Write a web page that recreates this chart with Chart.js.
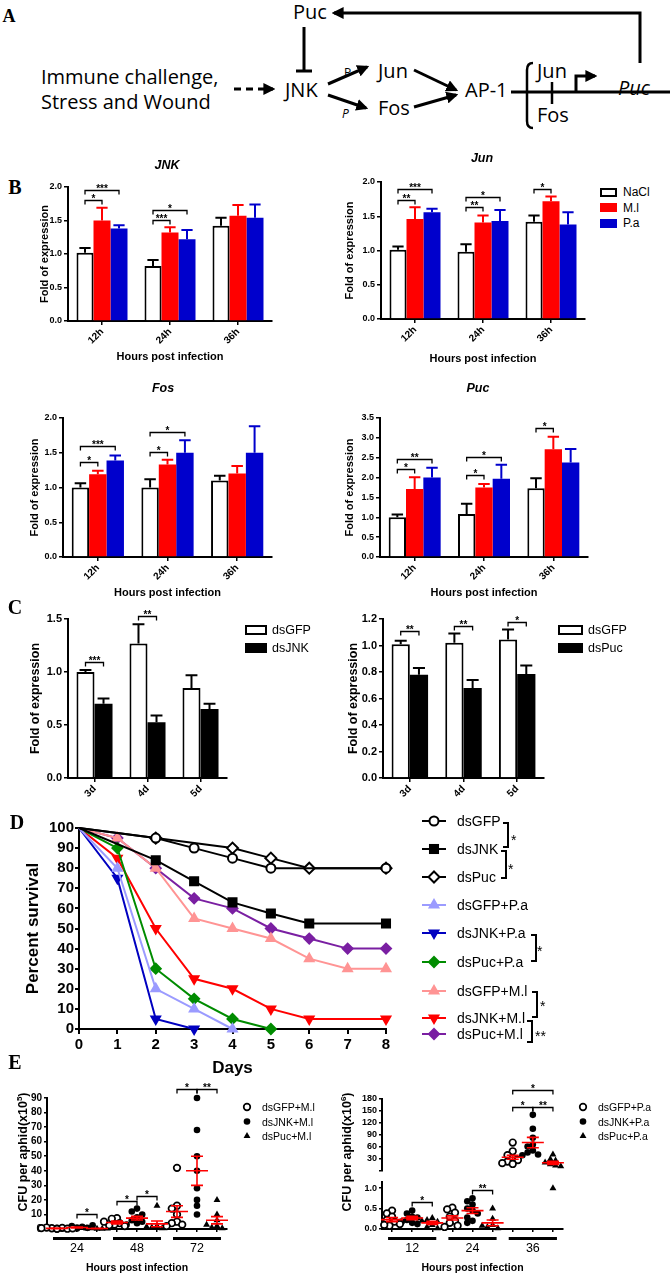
<!DOCTYPE html>
<html>
<head>
<meta charset="utf-8">
<title>JNK pathway and aphid immunity</title>
<script src="https://cdn.jsdelivr.net/npm/chart.js@4.4.1/dist/chart.umd.min.js"></script>
<style>
  html, body { margin: 0; padding: 0; background: #fff; }
  body { position: relative; width: 670px; height: 1274px; overflow: hidden;
         font-family: "Liberation Sans", Arial, sans-serif; color: #000; }
  canvas { position: absolute; }
  .lbl { position: absolute; white-space: nowrap; line-height: 1; }
  .c { transform: translate(-50%, -50%); }
  .m { transform: translateY(-50%); }
  .panel { font-family: "Liberation Serif", "Times New Roman", serif; font-weight: bold; font-size: 20px; }
  .gene { font-weight: bold; font-style: italic; font-size: 12.5px; }
  .rot { transform: translate(-50%, -50%) rotate(-90deg); font-weight: bold; font-size: 12.5px; }
  .rot sup { font-size: 8px; }
  .box { position: absolute; box-sizing: border-box; }
</style>
</head>
<body>

<!-- A: pathway sketch -->
<svg width="670" height="132" style="position:absolute;left:0;top:0">
  <defs>
    <marker id="ah" viewBox="0 0 10 10" refX="8" refY="5" markerWidth="4" markerHeight="4"
            orient="auto" markerUnits="strokeWidth">
      <path d="M0,0 L10,5 L0,10 z" fill="#000"/>
    </marker>
  </defs>
  <g font-family="'Open Sans','Noto Sans',sans-serif" font-size="20" fill="#000">
    <text x="41" y="84">Immune challenge,</text>
    <text x="41" y="109">Stress and Wound</text>
    <text x="293" y="19">Puc</text>
    <text x="285" y="97">JNK</text>
    <text x="378" y="78">Jun</text>
    <text x="378" y="115">Fos</text>
    <text x="465" y="97">AP-1</text>
    <text x="537" y="78">Jun</text>
    <text x="537" y="122">Fos</text>
    <text x="618" y="95" font-style="italic">Puc</text>
    <text x="344" y="77" font-size="12">P</text>
    <text x="342" y="118" font-size="12" font-style="italic">P</text>
  </g>
  <g stroke="#000" stroke-width="3" fill="none">
    <path d="M640,63 V13 H334" marker-end="url(#ah)"/>
    <path d="M304,27 V71 M296,71 H312"/>
    <path d="M234,89 H273" stroke-dasharray="7,5" marker-end="url(#ah)"/>
    <path d="M328,84 L367,67" marker-end="url(#ah)"/>
    <path d="M328,95 L366,108" marker-end="url(#ah)"/>
    <path d="M414,70 L456,90" marker-end="url(#ah)"/>
    <path d="M414,107 L456,95" marker-end="url(#ah)"/>
    <path d="M511,92 H527"/>
    <path d="M533,63 Q527,63 527,70 V121 Q527,128 533,128" stroke-width="2.5"/>
    <path d="M527,92 H670"/>
    <path d="M552,82 V104" stroke-width="2.5"/>
    <path d="M576,92 V76 H595" marker-end="url(#ah)"/>
  </g>
</svg>

<script>
// ---------- data ----------
// B: fold of expression after infection (mean, SEM)
const hpiLabels = ['12h', '24h', '36h'];
const bSeries = ['NaCl', 'M.l', 'P.a'];

const jnkNaCl = [1.02, 0.82, 1.42], jnkNaClErr = [0.07, 0.09, 0.12];
const jnkMl = [1.50, 1.32, 1.57],   jnkMlErr = [0.19, 0.08, 0.16];
const jnkPa = [1.38, 1.22, 1.54],   jnkPaErr = [0.05, 0.14, 0.20];

const junNaCl = [1.01, 0.98, 1.42], junNaClErr = [0.05, 0.11, 0.09];
const junMl = [1.46, 1.41, 1.72],   junMlErr = [0.17, 0.10, 0.07];
const junPa = [1.56, 1.43, 1.38],   junPaErr = [0.05, 0.16, 0.18];

const fosNaCl = [1.00, 1.00, 1.10], fosNaClErr = [0.06, 0.12, 0.07];
const fosMl = [1.19, 1.33, 1.20],   fosMlErr = [0.05, 0.07, 0.11];
const fosPa = [1.39, 1.50, 1.50],   fosPaErr = [0.07, 0.18, 0.38];

const pucNaCl = [1.00, 1.08, 1.73], pucNaClErr = [0.07, 0.26, 0.25];
const pucMl = [1.71, 1.75, 2.71],   pucMlErr = [0.30, 0.09, 0.32];
const pucPa = [2.00, 1.97, 2.38],   pucPaErr = [0.25, 0.35, 0.34];

// significance brackets: g = group, a/b = datasets joined, y = bracket height
const jnkSig = [{g:0,a:0,b:1,y:1.80,t:'*'}, {g:0,a:0,b:2,y:1.95,t:'***'}, {g:1,a:0,b:1,y:1.51,t:'***'}, {g:1,a:0,b:2,y:1.66,t:'*'}];
const junSig = [{g:0,a:0,b:1,y:1.74,t:'**'}, {g:0,a:0,b:2,y:1.90,t:'***'}, {g:1,a:0,b:1,y:1.63,t:'**'}, {g:1,a:0,b:2,y:1.78,t:'*'}, {g:2,a:0,b:1,y:1.90,t:'*'}];
const fosSig = [{g:0,a:0,b:1,y:1.36,t:'*'}, {g:0,a:0,b:2,y:1.59,t:'***'}, {g:1,a:0,b:1,y:1.51,t:'*'}, {g:1,a:0,b:2,y:1.80,t:'*'}];
const pucSig = [{g:0,a:0,b:1,y:2.21,t:'*'}, {g:0,a:0,b:2,y:2.47,t:'**'}, {g:1,a:0,b:1,y:2.06,t:'*'}, {g:1,a:0,b:2,y:2.53,t:'*'}, {g:2,a:0,b:1,y:3.25,t:'*'}];

// C: RNAi knockdown
const dayLabels = ['3d', '4d', '5d'];
const kdJnkGFP = [1.00, 1.27, 0.85], kdJnkGFPErr = [0.02, 0.18, 0.12];
const kdJnk = [0.70, 0.525, 0.65],   kdJnkErr = [0.05, 0.065, 0.05];
const kdPucGFP = [1.01, 1.02, 1.045], kdPucGFPErr = [0.025, 0.07, 0.075];
const kdPuc = [0.78, 0.68, 0.785],    kdPucErr = [0.05, 0.06, 0.065];
const kdJnkSig = [{g:0,a:0,b:1,y:1.09,t:'***'}, {g:1,a:0,b:1,y:1.53,t:'**'}];
const kdPucSig = [{g:0,a:0,b:1,y:1.11,t:'**'}, {g:1,a:0,b:1,y:1.15,t:'**'}, {g:2,a:0,b:1,y:1.18,t:'*'}];

// D: survival (days with an event, percent alive)
const survNames = ['dsGFP', 'dsJNK', 'dsPuc', 'dsGFP+P.a', 'dsJNK+P.a', 'dsPuc+P.a', 'dsGFP+M.l', 'dsJNK+M.l', 'dsPuc+M.l'];
const survDays = [
  [0, 2, 3, 4, 5, 8],
  [0, 2, 3, 4, 5, 6, 8],
  [0, 2, 4, 5, 6, 8],
  [0, 1, 2, 3, 4],
  [0, 1, 2, 3],
  [0, 1, 2, 3, 4, 5],
  [0, 1, 2, 3, 4, 5, 6, 7, 8],
  [0, 1, 2, 3, 4, 5, 6, 8],
  [0, 1, 2, 3, 4, 5, 6, 7, 8],
];
const survValues = [
  [100, 95, 90, 85, 80, 80],
  [100, 84, 73.5, 63, 57.5, 52.5, 52.5],
  [100, 95, 90, 85, 80, 80],
  [100, 80, 20, 10, 0],
  [100, 75, 5, 0],
  [100, 90, 30, 15, 5, 0],
  [100, 95, 80, 55, 50, 45, 35, 30, 30],
  [100, 85, 50, 25, 20, 10, 5, 5],
  [100, 95, 80, 65, 60, 50, 45, 40, 40],
];

// E: bacterial load per aphid, one list per time point
const mlGroups = ['24', '48', '72'];
const mlGFP = [[0.3, 0.5, 0.8, 1, 0.2, 0.6, 0.4, 0.1], [7.5, 7, 4, 3, 2.5, 2, 5], [42, 16, 14, 5, 4, 3, 2, 10]];
const mlJNK = [[1, 2, 1.5, 0.5, 0.8, 0.3, 2.5, 0.4], [14, 12, 8, 6, 5, 4, 10, 3], [90, 68, 50, 40, 28, 20, 16, 10]];
const mlPuc = [[0.2, 0.5, 0.1, 0.3, 0.4], [16, 2, 1, 0.5, 1.5, 0.8], [20, 10, 6, 2, 1, 0.5, 3]];
const mlMean = [0.4, 1.0, 0.3, 4.5, 7.5, 3.5, 12, 40, 6];
const mlSem = [0.2, 0.3, 0.1, 1.0, 1.3, 2.0, 4, 10, 2.5];
const mlSig = [{a:2,b:3,y:10,t:'*'}, {a:4,b:5,y:19,t:'*'}, {a:5,b:6,y:23,t:'*'}, {a:7,b:8,y:96,t:'*'}, {a:8,b:9,y:96,t:'**'}];

const paGroups = ['12', '24', '36'];
const paGFP = [[0.45, 0.38, 0.3, 0.22, 0.18, 0.12, 0.08, 0.1], [0.52, 0.48, 0.4, 0.3, 0.2, 0.15, 0.08, 0.05], [70, 48, 38, 30, 26, 22, 18, 16]];
const paJNK = [[0.45, 0.38, 0.3, 0.28, 0.22, 0.18, 0.15, 0.12], [0.75, 0.68, 0.6, 0.5, 0.45, 0.38, 0.2, 0.15, 0.28], [140, 105, 82, 65, 50, 45, 40, 38, 60]];
const paPuc = [[0.27, 0.22, 0.18, 0.1, 0.05, 0.02, 0.2], [0.5, 0.25, 0.1, 0.05, 0.02, 0.08], [40, 28, 25, 20, 15, 12, 10, 1]];
const paMean = [0.23, 0.27, 0.15, 0.27, 0.45, 0.15, 33, 70, 19];
const paSem = [0.05, 0.04, 0.04, 0.05, 0.07, 0.07, 5, 13, 4];
const paSigLow = [{a:2,b:3,y:0.65,t:'*'}, {a:5,b:6,y:0.96,t:'**'}];
const paSigHigh = [{a:7,b:8,y:159,t:'*'}, {a:8,b:9,y:159,t:'**'}, {a:7,b:9,y:202,t:'*'}];

// ---------- setup ----------
const FONT = '"Liberation Sans", Arial, sans-serif';
Chart.defaults.font.family = FONT;
Chart.defaults.color = '#000';
Chart.defaults.animation = false;
Chart.defaults.plugins.legend.display = false;
Chart.defaults.plugins.tooltip.enabled = false;

function makeCanvas(geo) {
  const c = document.createElement('canvas');
  const w = geo.R - geo.L + geo.yw + geo.padR;
  const h = geo.B - geo.T + geo.padT + geo.xh;
  c.width = w; c.height = h;
  c.style.left = (geo.L - geo.yw) + 'px';
  c.style.top = (geo.T - geo.padT) + 'px';
  c.style.width = w + 'px'; c.style.height = h + 'px';
  document.body.appendChild(c);
  return c;
}
const fixW = w => s => { s.width = w; s.paddingTop = 0; s.paddingBottom = 0; };
const fixH = h => s => { s.height = h; s.paddingLeft = 0; s.paddingRight = 0; };

function label(html, x, y, cls, css) {
  const el = document.createElement('div');
  el.className = 'lbl ' + cls;
  el.innerHTML = html;
  el.style.left = x + 'px';
  el.style.top = y + 'px';
  if (css) el.style.cssText += css;
  document.body.appendChild(el);
}
function box(x, y, w, h, fill, line) {
  const el = document.createElement('div');
  el.className = 'box';
  el.style.cssText += `left:${x}px;top:${y}px;width:${w}px;height:${h}px;background:${fill};border:2px solid ${line}`;
  document.body.appendChild(el);
}

// ---------- plugins ----------
const errorBars = {
  id: 'errorBars',
  afterDatasetsDraw(chart) {
    const {ctx} = chart, y = chart.scales.y;
    chart.data.datasets.forEach((ds, i) => {
      if (!ds.errors) return;
      chart.getDatasetMeta(i).data.forEach((bar, j) => {
        const top = y.getPixelForValue(ds.data[j] + ds.errors[j]);
        const w = bar.width * 0.33;
        ctx.save();
        ctx.strokeStyle = ds.errColor; ctx.lineWidth = 2;
        ctx.beginPath();
        ctx.moveTo(bar.x, bar.y); ctx.lineTo(bar.x, top);
        ctx.moveTo(bar.x - w, top); ctx.lineTo(bar.x + w, top);
        ctx.stroke();
        ctx.restore();
      });
    });
  }
};

function bracketX(chart, it, k) {
  if (it.g !== undefined) return chart.getDatasetMeta(it[k]).data[it.g].x;
  return chart.scales.x.getPixelForValue(it[k]);
}
const brackets = {
  id: 'brackets',
  afterDatasetsDraw(chart, args, opts) {
    if (!opts.items) return;
    const {ctx} = chart, y = chart.scales.y;
    ctx.save();
    ctx.strokeStyle = '#000'; ctx.fillStyle = '#000'; ctx.lineWidth = 1.3;
    ctx.font = `bold ${opts.size || 10}px ${FONT}`;
    ctx.textAlign = 'center'; ctx.textBaseline = 'alphabetic';
    opts.items.forEach(it => {
      const xa = bracketX(chart, it, 'a'), xb = bracketX(chart, it, 'b');
      const py = Math.round(y.getPixelForValue(it.y)) + 0.5;
      ctx.beginPath();
      ctx.moveTo(xa, py + 4); ctx.lineTo(xa, py); ctx.lineTo(xb, py); ctx.lineTo(xb, py + 4);
      ctx.stroke();
      ctx.fillText(it.t, (xa + xb) / 2, py + 1.5);
    });
    ctx.restore();
  }
};

const meanSem = {
  id: 'meanSem',
  afterDatasetsDraw(chart, args, opts) {
    if (!opts.mean) return;
    const {ctx} = chart, x = chart.scales.x, y = chart.scales.y;
    ctx.save();
    ctx.strokeStyle = '#ff0000'; ctx.lineWidth = 1.6;
    opts.mean.forEach((m, i) => {
      if (m < opts.lo || m >= opts.hi) return;
      const px = x.getPixelForValue(i + 1);
      const pm = y.getPixelForValue(m);
      const pt = y.getPixelForValue(m + opts.sem[i]);
      const pb = y.getPixelForValue(Math.max(m - opts.sem[i], y.min));
      ctx.beginPath();
      ctx.moveTo(px - 11, pm); ctx.lineTo(px + 11, pm);
      ctx.moveTo(px, pt); ctx.lineTo(px, pb);
      ctx.moveTo(px - 6, pt); ctx.lineTo(px + 6, pt);
      ctx.moveTo(px - 6, pb); ctx.lineTo(px + 6, pb);
      ctx.stroke();
    });
    ctx.restore();
  }
};

const groupBars = {
  id: 'groupBars',
  afterDraw(chart, args, opts) {
    if (!opts.n) return;
    const {ctx} = chart, x = chart.scales.x;
    ctx.save();
    ctx.strokeStyle = '#000'; ctx.lineWidth = 3;
    for (let g = 0; g < opts.n; g++) {
      ctx.beginPath();
      ctx.moveTo(x.getPixelForValue(g * 3 + 1) - 4, x.top + 9.5);
      ctx.lineTo(x.getPixelForValue(g * 3 + 3) + 4, x.top + 9.5);
      ctx.stroke();
    }
    ctx.restore();
  }
};
Chart.register(errorBars, brackets, meanSem, groupBars);

// ---------- bar charts (B, C) ----------
const axisGrid = {drawOnChartArea: false, tickLength: 4, color: '#000', lineWidth: 1.5};
const axisBorder = {color: '#000', width: 2};

function barChart(geo, labels, values, errors, styles, yMax, step, sig, cfg) {
  return new Chart(makeCanvas(geo), {
    type: 'bar',
    data: {
      labels,
      datasets: values.map((v, i) => ({
        data: v, errors: errors[i], errColor: styles[i].line,
        backgroundColor: styles[i].fill, borderColor: styles[i].line,
        borderWidth: styles[i].border, barPercentage: 1, categoryPercentage: cfg.cat,
      })),
    },
    options: {
      responsive: false,
      layout: {padding: {top: geo.padT, right: geo.padR, left: 0, bottom: 0}},
      scales: {
        x: {
          grid: Object.assign({offset: false}, axisGrid),
          border: axisBorder,
          ticks: {font: {size: cfg.xFont, weight: 'bold'}, maxRotation: 45, minRotation: 45, padding: 1},
          title: cfg.xTitle ? {display: true, text: cfg.xTitle, font: {size: 11, weight: 'bold'}, padding: 0} : {display: false},
          afterFit: fixH(geo.xh),
        },
        y: {
          min: 0, max: yMax,
          grid: axisGrid, border: axisBorder,
          ticks: {stepSize: step, autoSkip: false, font: {size: cfg.yFont, weight: 'bold'}, padding: 2, callback: v => v.toFixed(1)},
          title: {display: true, text: 'Fold of expression', font: {size: cfg.yTitle, weight: 'bold'}, padding: 0},
          afterFit: fixW(geo.yw),
        },
      },
      plugins: {brackets: {items: sig, size: 10}},
    },
  });
}

const bStyles = [
  {fill: '#ffffff', line: '#000000', border: 2},
  {fill: '#ff0000', line: '#ff0000', border: 0},
  {fill: '#0000cc', line: '#0000cc', border: 0},
];
const bCfg = {cat: 0.75, xFont: 10, yFont: 9, yTitle: 11, xTitle: 'Hours post infection'};

barChart({L: 68, R: 272, T: 187, B: 321, yw: 30, xh: 43, padT: 30, padR: 4}, hpiLabels,
  [jnkNaCl, jnkMl, jnkPa], [jnkNaClErr, jnkMlErr, jnkPaErr], bStyles, 2, 0.5, jnkSig, bCfg);
barChart({L: 381, R: 585, T: 182, B: 319, yw: 38, xh: 47, padT: 30, padR: 4}, hpiLabels,
  [junNaCl, junMl, junPa], [junNaClErr, junMlErr, junPaErr], bStyles, 2, 0.5, junSig, bCfg);
barChart({L: 63, R: 272, T: 418, B: 557, yw: 35, xh: 43, padT: 30, padR: 4}, hpiLabels,
  [fosNaCl, fosMl, fosPa], [fosNaClErr, fosMlErr, fosPaErr], bStyles, 2, 0.5, fosSig, bCfg);
barChart({L: 380, R: 588, T: 418, B: 557, yw: 37, xh: 43, padT: 30, padR: 4}, hpiLabels,
  [pucNaCl, pucMl, pucPa], [pucNaClErr, pucMlErr, pucPaErr], bStyles, 3.5, 0.5, pucSig, bCfg);

const cStyles = [
  {fill: '#ffffff', line: '#000000', border: 2},
  {fill: '#000000', line: '#000000', border: 0},
];
const cCfg = {cat: 0.68, xFont: 10, yFont: 11, yTitle: 12.5, xTitle: null};
barChart({L: 68, R: 227, T: 619, B: 778, yw: 40, xh: 30, padT: 22, padR: 4}, dayLabels,
  [kdJnkGFP, kdJnk], [kdJnkGFPErr, kdJnkErr], cStyles, 1.5, 0.5, kdJnkSig, cCfg);
barChart({L: 383, R: 544, T: 619, B: 778, yw: 37, xh: 30, padT: 22, padR: 4}, dayLabels,
  [kdPucGFP, kdPuc], [kdPucGFPErr, kdPucErr], cStyles, 1.2, 0.2, kdPucSig, cCfg);

// ---------- D: survival ----------
const survStyles = [
  {color: '#000000', fill: '#ffffff', point: 'circle', r: 4.5},
  {color: '#000000', fill: '#000000', point: 'rect', r: 5.7},
  {color: '#000000', fill: '#ffffff', point: 'rectRot', r: 5.5},
  {color: '#9b9bff', fill: '#9b9bff', point: 'triangle', r: 5},
  {color: '#0000c0', fill: '#0000c0', point: 'triangle', r: 5, rot: 180},
  {color: '#008c00', fill: '#008c00', point: 'rectRot', r: 5},
  {color: '#ff9494', fill: '#ff9494', point: 'triangle', r: 5},
  {color: '#ff0000', fill: '#ff0000', point: 'triangle', r: 5, rot: 180},
  {color: '#7a1fa2', fill: '#7a1fa2', point: 'rectRot', r: 5},
];
const geoD = {L: 79, R: 386, T: 828, B: 1029, yw: 56, xh: 50, padT: 8, padR: 12};
new Chart(makeCanvas(geoD), {
  type: 'line',
  data: {
    datasets: survNames.map((name, i) => ({
      label: name,
      data: survDays[i].map((d, j) => ({x: d, y: survValues[i][j]})),
      borderColor: survStyles[i].color, backgroundColor: survStyles[i].fill,
      pointBorderColor: survStyles[i].color, pointBackgroundColor: survStyles[i].fill,
      pointStyle: survStyles[i].point, pointRotation: survStyles[i].rot || 0,
      pointRadius: c => (c.dataIndex === 0 ? 0 : survStyles[i].r),
      pointBorderWidth: 2, borderWidth: 2, tension: 0, clip: false,
    })),
  },
  options: {
    responsive: false,
    layout: {padding: {top: geoD.padT, right: geoD.padR, left: 0, bottom: 0}},
    scales: {
      x: {
        type: 'linear', min: 0, max: 8,
        ticks: {stepSize: 1, autoSkip: false, font: {size: 15, weight: 'bold'}, padding: 2},
        grid: {drawOnChartArea: false, tickLength: 5, color: '#000', lineWidth: 2},
        border: axisBorder,
        title: {display: true, text: 'Days', font: {size: 17, weight: 'bold'}, padding: 0},
        afterFit: fixH(geoD.xh),
      },
      y: {
        min: 0, max: 100,
        ticks: {stepSize: 10, autoSkip: false, font: {size: 15, weight: 'bold'}, padding: 1},
        grid: {drawOnChartArea: false, tickLength: 4, color: '#000', lineWidth: 2},
        border: axisBorder,
        title: {display: true, text: 'Percent survival', font: {size: 17, weight: 'bold'}, padding: 0},
        afterFit: fixW(geoD.yw),
      },
    },
  },
});

// ---------- E: CFU scatter ----------
const eStyles = [
  {point: 'circle', r: 3.3, fill: '#ffffff', bw: 1.7},
  {point: 'circle', r: 3.3, fill: '#000000', bw: 0},
  {point: 'triangle', r: 4, fill: '#000000', bw: 0},
];
const PX_PER_POS = 20;

// spread points of one column so they do not sit on top of each other
function swarmX(values, pos, pyOf) {
  const placed = [];
  return values.map(v => {
    const py = pyOf(v);
    let off = 0;
    for (let k = 0; k < 15; k++) {
      const o = (k % 2 ? -1 : 1) * Math.ceil(k / 2) * 2.6;
      if (placed.every(p => Math.hypot(p.o - o, p.py - py) >= 5.2)) { off = o; break; }
    }
    placed.push({o: off, py});
    return pos + off / PX_PER_POS;
  });
}

function cfuChart(geo, groups, strains, yMin, yMax, step, fmt, mean, sem, lo, hi, sig, showX, tickSize) {
  const pyOf = v => geo.B - (v - yMin) / (yMax - yMin) * (geo.B - geo.T);
  const datasets = strains.map((vals, si) => {
    const pts = [];
    vals.forEach((col, g) => {
      const inRange = col.filter(v => v >= lo && v < hi);
      swarmX(inRange, g * 3 + si + 1, pyOf).forEach((x, k) => pts.push({x, y: inRange[k]}));
    });
    return {
      data: pts, pointStyle: eStyles[si].point, pointRadius: eStyles[si].r,
      backgroundColor: eStyles[si].fill, borderColor: '#000', borderWidth: eStyles[si].bw,
      clip: false,
    };
  });
  return new Chart(makeCanvas(geo), {
    type: 'scatter',
    data: {datasets},
    options: {
      responsive: false,
      layout: {padding: {top: geo.padT, right: geo.padR, left: 0, bottom: 0}},
      scales: {
        x: {
          type: 'linear', min: 0.5, max: 9.5, display: showX,
          afterBuildTicks: s => { s.ticks = [1, 2, 3, 4, 5, 6, 7, 8, 9].map(v => ({value: v})); },
          ticks: {autoSkip: false, font: {size: 12.5}, padding: 9,
                  callback: v => (v % 3 === 2 ? groups[(v - 2) / 3] : '')},
          grid: {drawOnChartArea: false, tickLength: 3, color: '#000', lineWidth: 1.5},
          border: axisBorder,
          title: {display: true, text: 'Hours post infection', font: {size: 10.5, weight: 'bold'}, padding: 0},
          afterFit: fixH(geo.xh),
        },
        y: {
          min: yMin, max: yMax,
          ticks: {stepSize: step, autoSkip: false, includeBounds: false, font: {size: tickSize, weight: 'bold'}, padding: 2, callback: fmt},
          grid: {drawOnChartArea: false, tickLength: 3, color: '#000', lineWidth: 1.5},
          border: axisBorder,
          afterFit: fixW(geo.yw),
        },
      },
      plugins: {
        meanSem: {mean, sem, lo, hi},
        brackets: {items: sig, size: 10},
        groupBars: {n: showX ? groups.length : 0},
      },
    },
  });
}

cfuChart({L: 47, R: 227, T: 1098, B: 1229, yw: 30, xh: 45, padT: 25, padR: 6}, mlGroups,
  [mlGFP, mlJNK, mlPuc], 0, 90, 10, v => v, mlMean, mlSem, -Infinity, Infinity, mlSig, true, 10);
cfuChart({L: 382, R: 563, T: 1182, B: 1229, yw: 30, xh: 45, padT: 6, padR: 6}, paGroups,
  [paGFP, paJNK, paPuc], 0, 1.15, 0.5, v => v.toFixed(1), paMean, paSem, -Infinity, 1.15, paSigLow, true, 9);
cfuChart({L: 382, R: 563, T: 1099, B: 1176, yw: 30, xh: 0, padT: 26, padR: 6}, paGroups,
  [paGFP, paJNK, paPuc], 0, 180, 30, v => (v === 0 ? '' : v), paMean, paSem, 1.15, Infinity, paSigHigh, false, 9);

// ---------- text labels ----------
label('A', 9, 16, 'c panel', 'font-size:18px');
label('B', 15, 187, 'c panel');
label('C', 15, 607, 'c panel');
label('D', 17, 822, 'c panel');
label('E', 15, 1062, 'c panel');

label('JNK', 167, 165, 'c gene');
label('Jun', 482, 158, 'c gene');
label('Fos', 163, 388, 'c gene');
label('Puc', 478, 388, 'c gene');

bSeries.forEach((name, i) => {
  const y = 192 + i * 15.5;
  box(600, y - 4.5, 17, 9, bStyles[i].fill, bStyles[i].line);
  label(name, 623, y, 'm', 'font-size:12px');
});
['dsGFP', 'dsJNK'].forEach((name, i) => {
  const y = 630 + i * 18;
  box(245, y - 5, 22, 10, cStyles[i].fill, cStyles[i].line);
  label(name, 272, y, 'm', 'font-size:12.5px');
});
['dsGFP', 'dsPuc'].forEach((name, i) => {
  const y = 630 + i * 18;
  box(558, y - 5, 25, 10, cStyles[i].fill, cStyles[i].line);
  label(name, 588, y, 'm', 'font-size:12.5px');
});

label('CFU per aphid(x10<sup>5</sup>)', 23, 1152, 'rot');
label('CFU per aphid(x10<sup>6</sup>)', 347, 1152, 'rot');

// ---------- legends drawn as SVG ----------
function markerSvg(st, x, y, stroke, sw) {
  const f = st.fill, r = st.r;
  const a = `fill="${f}" stroke="${stroke}" stroke-width="${sw}"`;
  if (st.point === 'circle') return `<circle cx="${x}" cy="${y}" r="${r}" ${a}/>`;
  if (st.point === 'rect') {
    const h = r * Math.SQRT1_2;
    return `<rect x="${x - h}" y="${y - h}" width="${2 * h}" height="${2 * h}" ${a}/>`;
  }
  if (st.point === 'rectRot') return `<polygon points="${x},${y - r} ${x + r},${y} ${x},${y + r} ${x - r},${y}" ${a}/>`;
  let rad = (st.rot || 0) * Math.PI / 180;
  const p = [];
  for (let k = 0; k < 3; k++) { p.push(`${x + Math.sin(rad) * r},${y - Math.cos(rad) * r}`); rad += 2 * Math.PI / 3; }
  return `<polygon points="${p.join(' ')}" ${a}/>`;
}

const dLegendRows = [821, 849, 877, 905, 933, 962, 991, 1018, 1034];
let svg = '<svg width="670" height="1274" style="position:absolute;left:0;top:0" font-family=\'"Liberation Sans",Arial,sans-serif\'>';
survNames.forEach((name, i) => {
  const y = dLegendRows[i], st = survStyles[i];
  svg += `<line x1="422" y1="${y}" x2="446" y2="${y}" stroke="${st.color}" stroke-width="2"/>`;
  svg += markerSvg(st, 434, y, st.color, 2);
  svg += `<text x="457" y="${y + 5}" font-size="14">${name}</text>`;
});
svg += '<g stroke="#000" stroke-width="2" fill="none">' +
  '<path d="M503,823 H508 V847 H503"/><path d="M501,851 H506 V878 H501"/>' +
  '<path d="M531,935 H536 V961 H531"/><path d="M532,992 H537 V1017 H532"/>' +
  '<path d="M527,1021 H532 V1042 H527"/></g>';
svg += '<g font-size="14">' +
  '<text x="511" y="845">*</text><text x="508" y="874">*</text>' +
  '<text x="537" y="956">*</text><text x="540" y="1011">*</text>' +
  '<text x="535" y="1041">**</text></g>';

const eNamesMl = ['dsGFP+M.l', 'dsJNK+M.l', 'dsPuc+M.l'];
const eNamesPa = ['dsGFP+P.a', 'dsJNK+P.a', 'dsPuc+P.a'];
[[247, eNamesMl], [583, eNamesPa]].forEach(([x0, names]) => {
  names.forEach((name, i) => {
    const y = 1107 + i * 14.5;
    svg += markerSvg(eStyles[i], x0, y, '#000', eStyles[i].bw);
    svg += `<text x="${x0 + 15}" y="${y + 4}" font-size="10.5">${name}</text>`;
  });
});
svg += '</svg>';
document.body.insertAdjacentHTML('beforeend', svg);
</script>
</body>
</html>
